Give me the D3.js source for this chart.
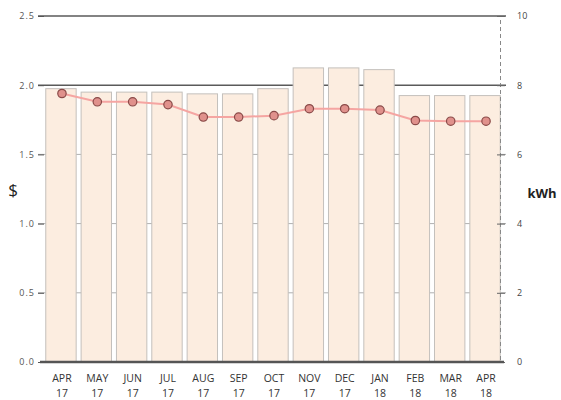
<!DOCTYPE html>
<html>
<head>
<meta charset="utf-8">
<script src="https://cdn.jsdelivr.net/npm/d3@7"></script>
<style>
  html, body { margin: 0; padding: 0; background: #fff; }
  svg { display: block; }
  text { font-family: "Open Sans", "DejaVu Sans", sans-serif; }
</style>
</head>
<body>
<svg id="chart" width="561" height="400"></svg>
<script>
// Monthly billing periods
const months = ["APR 17","MAY 17","JUN 17","JUL 17","AUG 17","SEP 17","OCT 17","NOV 17","DEC 17","JAN 18","FEB 18","MAR 18","APR 18"];
// Energy use per month (kWh, right axis) – bars
const kwhValues = [7.9, 7.8, 7.8, 7.8, 7.75, 7.75, 7.9, 8.5, 8.5, 8.45, 7.7, 7.7, 7.7];
// Cost per month ($, left axis) – line with points
const costValues = [1.94, 1.88, 1.88, 1.86, 1.77, 1.77, 1.78, 1.83, 1.83, 1.82, 1.745, 1.74, 1.74];
// Axis ticks
const dollarTicks = [0, 0.5, 1.0, 1.5, 2.0, 2.5];
const kwhTicks = [0, 2, 4, 6, 8, 10];

const svg = d3.select("#chart");

const x = d3.scaleBand().domain(months).range([44, 502]).paddingInner(0.14).paddingOuter(0.05);
const yCost = d3.scaleLinear().domain([0, 2.5]).range([362, 16]);
const yKwh = d3.scaleLinear().domain([0, 10]).range([362, 16]);

// Horizontal grid lines (behind the bars)
svg.append("g").selectAll("line")
  .data(dollarTicks.filter(d => d > 0))
  .join("line")
  .attr("x1", 38).attr("x2", 506)
  .attr("y1", d => yCost(d)).attr("y2", d => yCost(d))
  .attr("stroke", d => d >= 2 ? "#5a5a5a" : "#b0b0b0")
  .attr("stroke-width", d => d >= 2 ? 1.6 : 1);

// Bars
svg.append("g").selectAll("rect")
  .data(months)
  .join("rect")
  .attr("x", d => x(d))
  .attr("width", x.bandwidth())
  .attr("y", (d, i) => yKwh(kwhValues[i]))
  .attr("height", (d, i) => yKwh(0) - yKwh(kwhValues[i]))
  .attr("fill", "#fcede0")
  .attr("stroke", "#c4c0bc")
  .attr("stroke-width", 1);

// Left axis ($)
const leftAxis = svg.append("g")
  .attr("transform", "translate(44,0)")
  .call(d3.axisLeft(yCost).tickValues(dollarTicks).tickFormat(d3.format(".1f")).tickSize(6).tickPadding(3));
leftAxis.select(".domain").remove();
leftAxis.selectAll(".tick line").attr("stroke", "#555");
leftAxis.selectAll(".tick text").attr("fill", "#555").style("font-size", "9px").style("letter-spacing", "1px");

// Right axis (kWh)
const rightAxis = svg.append("g")
  .attr("transform", "translate(500,0)")
  .call(d3.axisRight(yKwh).tickValues(kwhTicks).tickSize(5).tickPadding(12));
rightAxis.select(".domain").attr("stroke", "#888").attr("stroke-dasharray", "4,3");
rightAxis.selectAll(".tick line").attr("stroke", "#666").attr("x1", -3);
rightAxis.selectAll(".tick text").attr("fill", "#444").style("font-size", "9px");

// Baseline
svg.append("line")
  .attr("x1", 40).attr("x2", 504)
  .attr("y1", yCost(0)).attr("y2", yCost(0))
  .attr("stroke", "#555").attr("stroke-width", 2.5);

// Cost line
const cx = d => x(d) + x.bandwidth() / 2 + 1;
svg.append("path")
  .datum(months)
  .attr("fill", "none")
  .attr("stroke", "#f5a5a2")
  .attr("stroke-width", 2)
  .attr("d", d3.line().x(d => cx(d)).y((d, i) => yCost(costValues[i])));

svg.append("g").selectAll("circle")
  .data(months)
  .join("circle")
  .attr("cx", d => cx(d))
  .attr("cy", (d, i) => yCost(costValues[i]))
  .attr("r", 4.2)
  .attr("fill", "#e0918c")
  .attr("stroke", "#8a4a48")
  .attr("stroke-width", 1.2);

// Month labels: month name and year on separate lines
const monthRow = svg.append("g").style("font-size", "10.5px").attr("fill", "#333").attr("text-anchor", "middle");
monthRow.selectAll("text.mon")
  .data(months)
  .join("text")
  .attr("class", "mon")
  .attr("x", d => cx(d))
  .attr("y", 382)
  .text(d => d.split(" ")[0]);
monthRow.selectAll("text.yr")
  .data(months)
  .join("text")
  .attr("class", "yr")
  .attr("x", d => cx(d))
  .attr("y", 397)
  .text(d => d.split(" ")[1]);

// Axis titles
svg.append("text").attr("x", 13).attr("y", 196).attr("text-anchor", "middle")
  .attr("fill", "#222").style("font-size", "17px").text("$");
svg.append("text").attr("x", 542).attr("y", 198).attr("text-anchor", "middle")
  .attr("fill", "#222").style("font-size", "13px").style("font-weight", "bold").text("kWh");
</script>
</body>
</html>
